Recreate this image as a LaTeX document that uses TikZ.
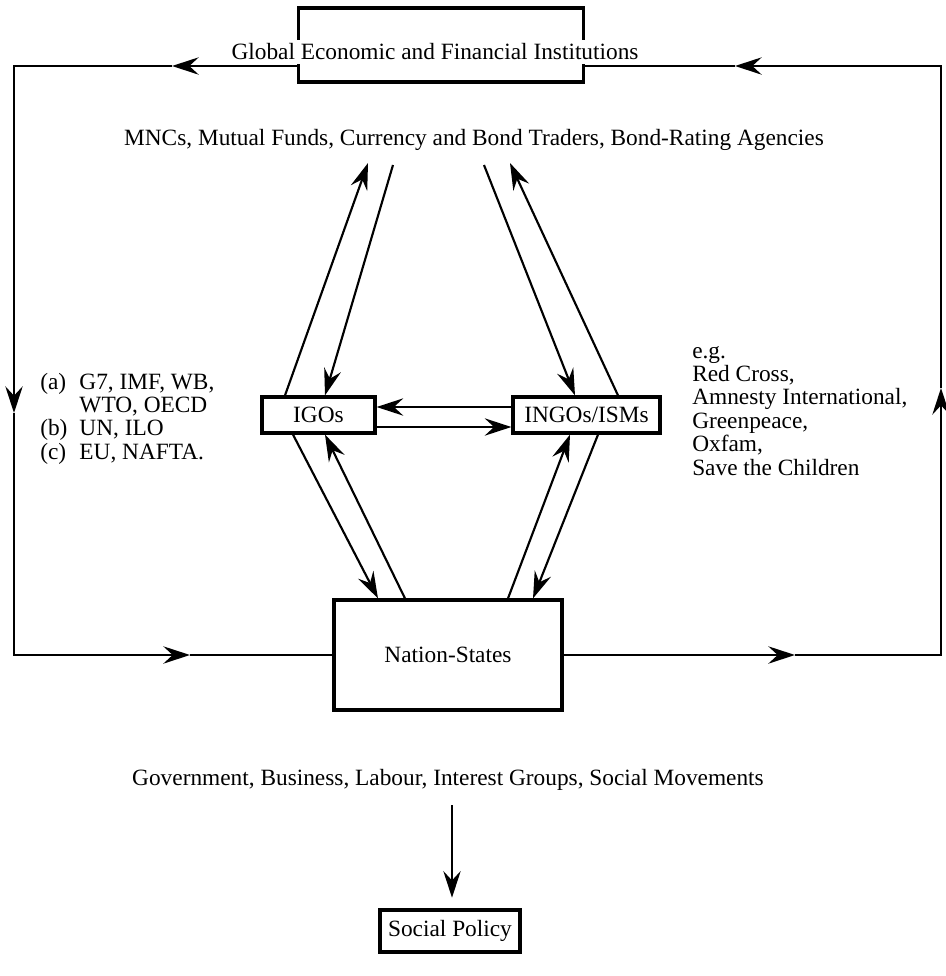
\documentclass[tikz,border=0pt]{standalone}
\usepackage{fontspec}
\setmainfont{Liberation Serif}
\usetikzlibrary{arrows.meta}
\begin{document}
\begin{tikzpicture}[x=0.75pt,y=-0.75pt,
  txt/.style={font=\fontsize{17.5}{17.6}\selectfont},
  box/.style={draw, line width=2.4pt, inner sep=0pt, txt},
  ln/.style={line width=1.6pt, line join=miter},
  tip/.style={-{Stealth[length=20pt,width=13pt,inset=7pt]}}]
\useasboundingbox (0,0) rectangle (946,976);

% nodes
\node[box, minimum width=213.75pt, minimum height=55.5pt] (gefi) at (441,45) {};
\node[txt, fill=white, inner sep=3pt] (gefit) at (435,52) {Global Economic and Financial Institutions};
\node[txt] (mnc) at (474,140) {MNCs, Mutual Funds, Currency and Bond Traders, Bond-Rating Agencies};
\node[box, minimum width=84.75pt, minimum height=27pt] (igo) at (318.5,415) {IGOs};
\node[box, minimum width=110.25pt, minimum height=27pt] (ingo) at (586.5,415) {INGOs/ISMs};
\node[box, minimum width=171pt, minimum height=82.5pt] (ns) at (448,655) {Nation-States};
\node[txt] (gov) at (448,780) {Government, Business, Labour, Interest Groups, Social Movements};
\node[box, minimum width=105pt, minimum height=31.5pt] (sp) at (450,931) {Social Policy};

\node[txt, anchor=base west, inner sep=0pt] (leftlist) at (40,389)
  {\begin{tabular}[t]{@{}l@{\hspace{9pt}}l@{}}(a) & G7, IMF, WB,\\ & WTO, OECD\\ (b) & UN, ILO\\ (c) & EU, NAFTA.\end{tabular}};
\node[txt, anchor=base west, inner sep=0pt] (rightlist) at (692,358)
  {\begin{tabular}[t]{@{}l@{}}e.g.\\ Red Cross,\\ Amnesty International,\\ Greenpeace,\\ Oxfam,\\ Save the Children\end{tabular}};

% loop coordinates
\coordinate (gL) at (gefi.west |- 0,66);
\coordinate (gR) at (gefi.east |- 0,66);
\coordinate (cTL) at (14,66);
\coordinate (cBL) at (14,655);
\coordinate (cTR) at (941,66);
\coordinate (cBR) at (941,655);
\coordinate (nL) at (ns.west |- 0,655);
\coordinate (nR) at (ns.east |- 0,655);
\coordinate (aTL) at (172,66);
\coordinate (aL) at (14,413);
\coordinate (aBL) at (190,655);
\coordinate (aBR) at (795,655);
\coordinate (aR) at (941,388);
\coordinate (aTR) at (735,66);

\draw[ln,tip] (gL) -- (aTL);
\draw[ln,tip] (aTL) -- (cTL) -- (aL);
\draw[ln,tip] (aL) -- (cBL) -- (aBL);
\draw[ln] (aBL) -- (nL);
\draw[ln,tip] (nR) -- (aBR);
\draw[ln,tip] (aBR) -- (cBR) -- (aR);
\draw[ln,tip] (aR) -- (cTR) -- (aTR);
\draw[ln] (aTR) -- (gR);

% upper diagonals
\coordinate (m1) at (368,163);
\coordinate (m2) at (393,165);
\coordinate (m3) at (484,165);
\coordinate (m4) at (510,163);
\draw[ln,tip] (igo.north -| 285,0) -- (m1);
\draw[ln,tip] (m2) -- (igo.north -| 325,0);
\draw[ln,tip] (m3) -- (ingo.north -| 575,0);
\draw[ln,tip] (ingo.north -| 618,0) -- (m4);

% horizontal between IGOs and INGOs
\draw[ln,tip] (ingo.west |- 0,407) -- (igo.east |- 0,407);
\draw[ln,tip] (igo.east |- 0,427) -- (ingo.west |- 0,427);

% lower diagonals
\draw[ln,tip] (igo.south -| 293,0) -- (ns.north -| 378,0);
\draw[ln,tip] (ns.north -| 405,0) -- (igo.south -| 325,0);
\draw[ln,tip] (ns.north -| 508,0) -- (ingo.south -| 570,0);
\draw[ln,tip] (ingo.south -| 598,0) -- (ns.north -| 533,0);

% to social policy
\draw[ln,tip] (gov.south -| 452,0) ++(0,10) -- ([yshift=8pt]sp.north -| 452,0);
\end{tikzpicture}
\end{document}
